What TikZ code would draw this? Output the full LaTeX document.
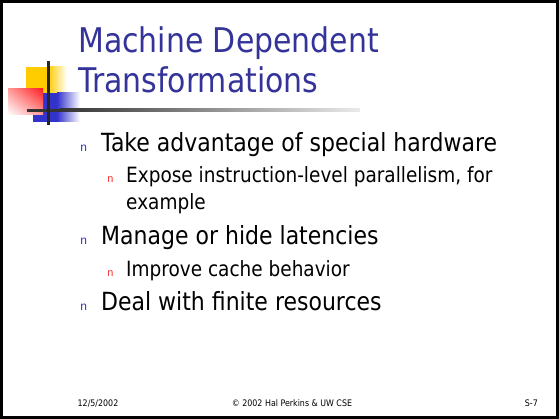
\documentclass[tikz,border=0pt]{standalone}
\usepackage{fontspec}
\setmainfont{DejaVu Sans}[FakeStretch=0.88]
\newfontfamily\bulfont{Liberation Mono}
\usetikzlibrary{shadings}
\definecolor{titleblue}{HTML}{333399}
\definecolor{bulblue}{HTML}{3333CC}
\definecolor{bulred}{HTML}{FF3333}
\definecolor{logoyellow}{HTML}{FFCC00}
\definecolor{logoblue}{HTML}{3333CC}
\definecolor{logored}{HTML}{FF2020}
\definecolor{linegray}{HTML}{333333}
\begin{document}
\begin{tikzpicture}[x=1pt,y=-1pt,
  titletext/.style={anchor=base west,inner sep=0pt,text=titleblue,font=\fontsize{34}{40}\selectfont},
  lvlone/.style={anchor=base west,inner sep=0pt,font=\fontsize{25}{30}\selectfont},
  lvltwo/.style={anchor=base west,inner sep=0pt,font=\fontsize{21}{25}\selectfont},
  bulone/.style={anchor=base west,inner sep=0pt,text=bulblue,font=\bulfont\fontsize{12}{12}\selectfont},
  bultwo/.style={anchor=base west,inner sep=0pt,text=bulred,font=\bulfont\fontsize{11}{11}\selectfont},
  foottext/.style={anchor=base,inner sep=0pt,font=\fontsize{9}{10}\selectfont}]
\useasboundingbox (0,0) rectangle (559,419);
\fill[white] (0,0) rectangle (559,419);
\draw[line width=3pt] (1.5,1.5) rectangle (557.5,417.5);
% logo
\fill[logoyellow] (26,67) rectangle (48,93);
\shade[left color=logoyellow,right color=white] (48,67) rectangle (67,93);
\fill[logoblue] (33,93) rectangle (57,122);
\shade[left color=logoblue,right color=white] (57,93) rectangle (80,122);
\shade[upper right=logored,upper left=logored!45,lower right=logored!45,lower left=white] (8,89) rectangle (43,115);
\fill[linegray] (27,109) rectangle (60,112);
\shade[left color=linegray,right color=black!8] (60,109) rectangle (360,112);
\fill[black!85] (47,61) rectangle (49.5,125);
% title
\node[titletext] (t1) at (78,53) {Machine Dependent};
\node[titletext] (t2) at (78,93) {Transformations};
% bullets
\node[bulone] (b1) at (80,152) {n};
\node[lvlone] (l1) at (101,152) {Take advantage of special hardware};
\node[bultwo] (b11) at (107,183) {n};
\node[lvltwo] (l11) at (126,183) {Expose instruction-level parallelism, for};
\node[lvltwo] (l11b) at (126,210) {example};
\node[bulone] (b2) at (80,245) {n};
\node[lvlone] (l2) at (101,245) {Manage or hide latencies};
\node[bultwo] (b21) at (107,277) {n};
\node[lvltwo] (l21) at (126,277) {Improve cache behavior};
\node[bulone] (b3) at (80,310) {n};
\node[lvlone] (l3) at (101,310) {Deal with finite resources};
% footer
\node[foottext] (f1) at (98,406) {12/5/2002};
\node[foottext] (f2) at (292,406) {\textcopyright{} 2002 Hal Perkins \& UW CSE};
\node[foottext,anchor=base east] (f3) at (538,406) {S-7};
\end{tikzpicture}
\end{document}
